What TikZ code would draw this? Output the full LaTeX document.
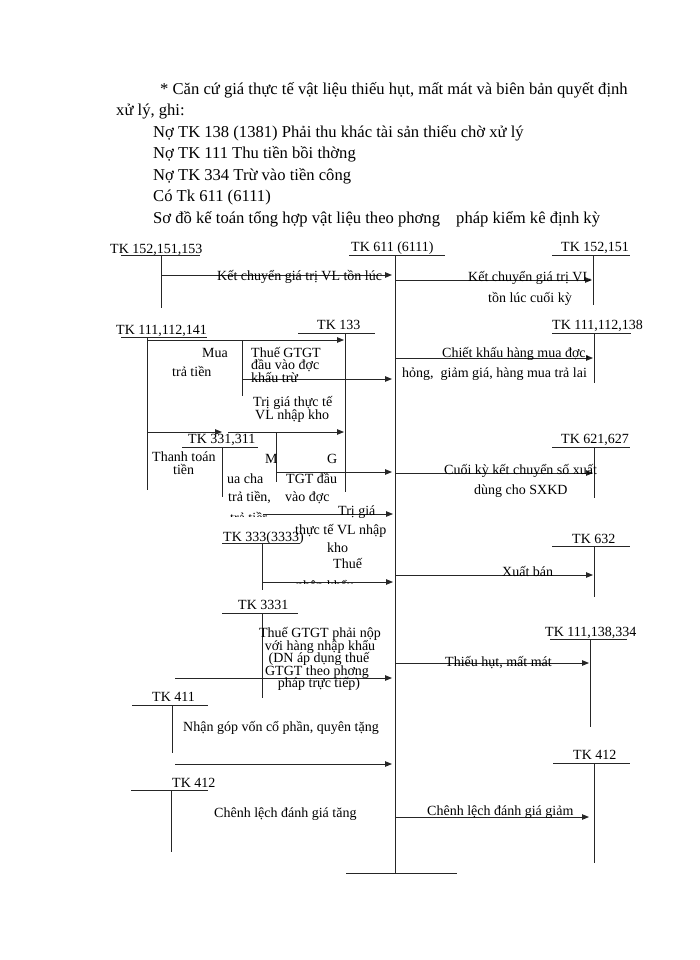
\documentclass[tikz,border=0pt]{standalone}
\usepackage{fontspec}
\setmainfont{Liberation Serif}
\usetikzlibrary{arrows.meta}
\begin{document}
\begin{tikzpicture}[x=1pt,y=-1pt,
  body/.style={anchor=base west, inner sep=0pt, font=\fontsize{16.6}{21}\selectfont},
  lbl/.style={anchor=base west, inner sep=0pt, font=\fontsize{14}{13}\selectfont},
  lblc/.style={anchor=base, inner sep=0pt, font=\fontsize{14}{13}\selectfont},
  tline/.style={line width=0.9pt, black!85},
  arr/.style={line width=0.9pt, black!85, -{Triangle[length=7pt,width=5.5pt]}}]
\useasboundingbox (0,0) rectangle (700,960);
% ---------- top text ----------
\node[body] (t1) at (160,95) {* Căn cứ giá thực tế vật liệu thiếu hụt, mất mát và biên bản quyết định};
\node[body] (t2) at (116,116) {xử lý, ghi:};
\node[body] (t3) at (153,137.5) {Nợ TK 138 (1381) Phải thu khác tài sản thiếu chờ xử lý};
\node[body] (t4) at (153,159) {Nợ TK 111 Thu tiền bồi thờng};
\node[body] (t5) at (153,180) {Nợ TK 334 Trừ vào tiền công};
\node[body] (t6) at (153,201.5) {Có Tk 611 (6111)};
\node[body] (t7) at (153,223) {Sơ đồ kế toán tổng hợp vật liệu theo phơng \hspace{12pt}pháp kiểm kê định kỳ};
% ---------- T accounts: headers ----------
\node[lbl] (h152l) at (110,253.5) {TK 152,151,153};
\node[lbl] (h611) at (351,251) {TK 611 (6111)};
\node[lbl] (h152r) at (561,251) {TK 152,151};
\node[lbl] (h111l) at (116,334.5) {TK 111,112,141};
\node[lbl] (h133) at (317,329.5) {TK 133};
\node[lbl] (h111r) at (552,329.5) {TK 111,112,138};
\node[lbl] (h331) at (188,443.5) {TK 331,311};
\node[lbl] (h621) at (561,443.5) {TK 621,627};
\node[lbl] (h333) at (223,541.5) {TK 333(3333)};
\node[lbl] (h632) at (572,543.5) {TK 632};
\node[lbl] (h3331) at (238,609.5) {TK 3331};
\node[lbl] (h111b) at (545,636.5) {TK 111,138,334};
\node[lbl] (h411) at (152,701.5) {TK 411};
\node[lbl] (h412r) at (573,759.5) {TK 412};
\node[lbl] (h412l) at (172,787.5) {TK 412};
% ---------- T accounts: coordinates ----------
\coordinate (u152lA) at (121,255); \coordinate (u152lB) at (200,255);
\coordinate (v152lA) at (161,255); \coordinate (v152lB) at (161,308);
\coordinate (u611A) at (349,255); \coordinate (u611B) at (445,255);
\coordinate (v611A) at (395,255); \coordinate (v611B) at (395,873);
\coordinate (b611A) at (346,873); \coordinate (b611B) at (457,873);
\coordinate (u152rA) at (552,255); \coordinate (u152rB) at (630,255);
\coordinate (v152rA) at (593,255); \coordinate (v152rB) at (593,305);
\coordinate (u111lA) at (121,337); \coordinate (u111lB) at (207,337);
\coordinate (v111lA) at (147,337); \coordinate (v111lB) at (147,490);
\coordinate (u133A) at (298,333); \coordinate (u133B) at (375,333);
\coordinate (v133A) at (345,333); \coordinate (v133B) at (345,492);
\coordinate (u111rA) at (552,333); \coordinate (u111rB) at (631,333);
\coordinate (v111rA) at (594,333); \coordinate (v111rB) at (594,383);
\coordinate (u331A) at (182,447); \coordinate (u331B) at (258,447);
\coordinate (v331A) at (222,447); \coordinate (v331B) at (222,497);
\coordinate (u621A) at (552,447); \coordinate (u621B) at (630,447);
\coordinate (v621A) at (594,447); \coordinate (v621B) at (594,498);
\coordinate (u333A) at (222,543); \coordinate (u333B) at (300,543);
\coordinate (v333A) at (262,543); \coordinate (v333B) at (262,590);
\coordinate (u632A) at (552,546); \coordinate (u632B) at (630,546);
\coordinate (v632A) at (594,546); \coordinate (v632B) at (594,597);
\coordinate (u3331A) at (222,613); \coordinate (u3331B) at (298,613);
\coordinate (v3331A) at (262,613); \coordinate (v3331B) at (262,698);
\coordinate (u111bA) at (550,639); \coordinate (u111bB) at (627,639);
\coordinate (v111bA) at (590,639); \coordinate (v111bB) at (590,727);
\coordinate (u411A) at (132,705); \coordinate (u411B) at (208,705);
\coordinate (v411A) at (172,705); \coordinate (v411B) at (172,753);
\coordinate (u412rA) at (553,763); \coordinate (u412rB) at (630,763);
\coordinate (v412rA) at (594,763); \coordinate (v412rB) at (594,863);
\coordinate (u412lA) at (131,790); \coordinate (u412lB) at (208,790);
\coordinate (v412lA) at (171,790); \coordinate (v412lB) at (171,852);
\coordinate (gA) at (242,340); \coordinate (gB) at (242,396);
\coordinate (mA) at (276,432); \coordinate (mB) at (276,482);
\foreach \n in {152l,611,152r,111l,133,111r,331,621,333,632,3331,111b,411,412r,412l}{
  \draw[tline] (u\n A) -- (u\n B);
  \draw[tline] (v\n A) -- (v\n B);
}
\draw[tline] (b611A) -- (b611B);
\draw[tline] (gA) -- (gB);
\draw[tline] (mA) -- (mB);
% ---------- arrow end points ----------
\coordinate (a1s) at (161,275); \coordinate (a1e) at (392,275);
\coordinate (a2s) at (395,280); \coordinate (a2e) at (592,280);
\coordinate (a3s) at (147,340); \coordinate (a3e) at (344,340);
\coordinate (a4s) at (242,379); \coordinate (a4e) at (392,379);
\coordinate (a5s) at (395,358); \coordinate (a5e) at (593,358);
\coordinate (a6s) at (147,432); \coordinate (a6e) at (222,432);
\coordinate (a7s) at (228,432); \coordinate (a7e) at (344,432);
\coordinate (a8s) at (276,472); \coordinate (a8e) at (392,472);
\coordinate (a9s) at (395,473); \coordinate (a9e) at (593,473);
\coordinate (a10s) at (263,514); \coordinate (a10e) at (393,514);
\coordinate (a11s) at (262,582); \coordinate (a11e) at (393,582);
\coordinate (a12s) at (395,575); \coordinate (a12e) at (593,575);
\coordinate (a13s) at (175,678); \coordinate (a13e) at (392,678);
\coordinate (a14s) at (395,663); \coordinate (a14e) at (589,663);
\coordinate (a15s) at (175,764); \coordinate (a15e) at (392,764);
\coordinate (a16s) at (395,817); \coordinate (a16e) at (589,817);
\foreach \i in {1,...,16}{ \draw[arr] (a\i s) -- (a\i e); }
% ---------- labels ----------
\node[lbl] (k1) at (217,280.5) {Kết chuyển giá trị VL tồn lúc};
\node[lbl] (k2) at (468,281.5) {Kết chuyển giá trị VL};
\node[lbl] (k3) at (488,302.5) {tồn lúc cuối kỳ};
\node[lbl] (m1) at (202,357.5) {Mua};
\node[lbl] (m2) at (172,376.5) {trả tiền};
\node[lbl] (g1) at (251,357) {Thuế GTGT};
\node[lbl] (g2) at (251,369.5) {đầu vào đợc};
\node[lbl] (g3) at (251,382) {khấu trừ};
\node[lbl] (c1) at (442,357.5) {Chiết khấu hàng mua đợc,};
\node[lbl] (c2) at (402,377.5) {hỏng, \ giảm giá, hàng mua trả lai};
\node[lbl] (r1) at (253,406.5) {Trị giá thực tế};
\node[lbl] (r2) at (255,419.5) {VL nhập kho};
\node[lbl] (p1) at (152,461) {Thanh toán};
\node[lbl] (p2) at (173,474) {tiền};
\node[lbl] (q1) at (265,463.5) {M};
\node[lbl] (q2) at (327,463.5) {G};
\node[lbl] (q3) at (227,483.5) {ua cha};
\node[lbl] (q4) at (228,501.5) {trả tiền,};
\node[lbl] (q5) at (286,483.5) {TGT đầu};
\node[lbl] (q6) at (285,501.5) {vào đợc};
\node[lbl] (s1) at (444,474.5) {Cuối kỳ kết chuyển số xuất};
\node[lbl] (s2) at (474,494.5) {dùng cho SXKD};
\node[lbl] (w1) at (338,515.5) {Trị giá};
\node[lbl] (w2) at (295,534.5) {thực tế VL nhập};
\node[lbl] (w3) at (327,552.5) {kho};
\node[lbl] (w4) at (333,568.5) {Thuế};
\begin{scope}
  \clip (225,505) rectangle (266,516);
  \node[lbl] (f1) at (230,522) {trả tiền};
\end{scope}
\begin{scope}
  \clip (290,570) rectangle (352,583);
  \node[lbl] (f2) at (296,590) {nhập khẩu};
\end{scope}
\node[lbl] (x1) at (502,576.5) {Xuất bán};
\node[lblc] (n1) at (320,637.5) {Thuế GTGT phải nộp};
\node[lblc] (n2) at (320,650) {với hàng nhập khẩu};
\node[lblc] (n3) at (319,662.5) {(DN áp dụng thuế};
\node[lblc] (n4) at (317,675) {GTGT theo phơng};
\node[lblc] (n5) at (319,687.5) {pháp trực tiếp)};
\node[lbl] (th) at (445,666.5) {Thiếu hụt, mất mát};
\node[lbl] (ng) at (183,731.5) {Nhận góp vốn cổ phần, quyên tặng};
\node[lbl] (ct) at (214,817.5) {Chênh lệch đánh giá tăng};
\node[lbl] (cg) at (427,815.5) {Chênh lệch đánh giá giảm};
\end{tikzpicture}
\end{document}
